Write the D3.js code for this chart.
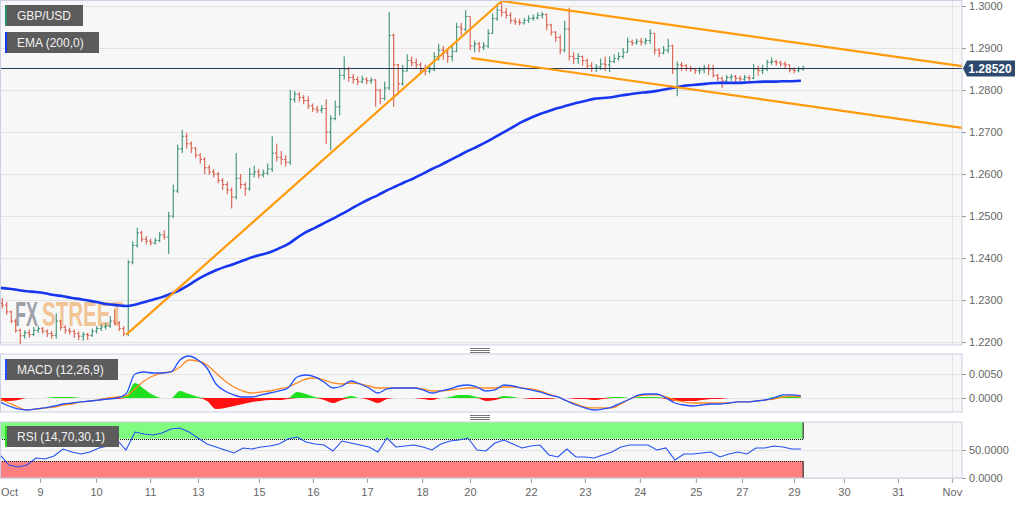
<!DOCTYPE html>
<html><head><meta charset="utf-8">
<script src="https://cdn.jsdelivr.net/npm/d3@7"></script>
<style>
html,body{margin:0;padding:0;background:#fff;}
svg{display:block;font-family:"Liberation Sans",Arial,sans-serif;}
</style></head><body>
<svg id="c" width="1032" height="505"></svg>
<script>
// ---- DATA (2-hour GBP/USD bars) ----
const firstOpen = 1.2292;
const closes = [
1.2288,1.2272,1.2250,1.2228,1.2215,1.2222,1.2218,1.2228,1.2232,1.2226,
1.2220,1.2216,1.2250,1.2235,1.2228,1.2225,1.2220,1.2214,1.2218,1.2216,
1.2226,1.2232,1.2236,1.2238,1.2250,1.2245,1.2232,1.2220,1.2390,1.2430,
1.2460,1.2445,1.2440,1.2436,1.2442,1.2455,1.2450,1.2500,1.2560,1.2660,
1.2690,1.2672,1.2662,1.2645,1.2635,1.2615,1.2605,1.2600,1.2585,1.2575,
1.2562,1.2545,1.2590,1.2575,1.2565,1.2600,1.2605,1.2598,1.2602,1.2612,
1.2650,1.2640,1.2635,1.2628,1.2778,1.2790,1.2782,1.2775,1.2762,1.2755,
1.2752,1.2756,1.2700,1.2732,1.2760,1.2835,1.2850,1.2830,1.2825,1.2820,
1.2826,1.2822,1.2824,1.2800,1.2780,1.2805,1.2930,1.2860,1.2815,1.2845,
1.2870,1.2865,1.2860,1.2850,1.2845,1.2850,1.2880,1.2895,1.2888,1.2880,
1.2892,1.2950,1.2945,1.2975,1.2905,1.2910,1.2902,1.2905,1.2935,1.2970,
1.2990,1.2985,1.2978,1.2965,1.2962,1.2960,1.2966,1.2970,1.2972,1.2978,
1.2980,1.2955,1.2938,1.2925,1.2895,1.2945,1.2880,1.2875,1.2880,1.2870,
1.2858,1.2852,1.2855,1.2862,1.2860,1.2868,1.2875,1.2880,1.2890,1.2915,
1.2912,1.2916,1.2914,1.2918,1.2935,1.2895,1.2888,1.2895,1.2905,1.2850,
1.2860,1.2858,1.2852,1.2850,1.2846,1.2848,1.2852,1.2850,1.2835,1.2828,
1.2822,1.2830,1.2832,1.2828,1.2826,1.2830,1.2828,1.2850,1.2846,1.2850,
1.2866,1.2868,1.2865,1.2862,1.2860,1.2848,1.2846,1.2850,1.2852];
const highs = [
1.2305,1.2295,1.2275,1.2255,1.2232,1.2228,1.2230,1.2236,1.2238,1.2236,
1.2230,1.2226,1.2268,1.2252,1.2240,1.2234,1.2230,1.2225,1.2224,1.2222,
1.2232,1.2238,1.2242,1.2245,1.2262,1.2278,1.2250,1.2238,1.2395,1.2440,
1.2472,1.2465,1.2452,1.2446,1.2448,1.2462,1.2466,1.2510,1.2575,1.2670,
1.2705,1.2698,1.2678,1.2664,1.2650,1.2640,1.2622,1.2612,1.2605,1.2590,
1.2582,1.2568,1.2650,1.2600,1.2580,1.2615,1.2620,1.2612,1.2610,1.2625,
1.2690,1.2672,1.2655,1.2645,1.2800,1.2798,1.2795,1.2788,1.2785,1.2768,
1.2762,1.2764,1.2778,1.2740,1.2775,1.2850,1.2880,1.2855,1.2838,1.2832,
1.2834,1.2830,1.2830,1.2826,1.2802,1.2820,1.2986,1.2935,1.2862,1.2860,
1.2885,1.2880,1.2875,1.2866,1.2860,1.2858,1.2890,1.2910,1.2905,1.2900,
1.2905,1.2960,1.2960,1.2990,1.2975,1.2918,1.2915,1.2914,1.2945,1.2983,
1.3005,1.3012,1.2995,1.2985,1.2972,1.2970,1.2972,1.2978,1.2980,1.2985,
1.2986,1.2982,1.2958,1.2940,1.2932,1.2965,1.2996,1.2890,1.2888,1.2882,
1.2875,1.2866,1.2862,1.2875,1.2880,1.2880,1.2885,1.2890,1.2900,1.2925,
1.2920,1.2922,1.2924,1.2924,1.2945,1.2935,1.2900,1.2905,1.2922,1.2908,
1.2868,1.2867,1.2862,1.2858,1.2853,1.2855,1.2860,1.2862,1.2860,1.2838,
1.2832,1.2836,1.2838,1.2836,1.2834,1.2836,1.2835,1.2862,1.2858,1.2860,
1.2872,1.2878,1.2872,1.2870,1.2868,1.2860,1.2854,1.2856,1.2858];
const lows = [
1.2280,1.2265,1.2245,1.2222,1.2195,1.2208,1.2210,1.2214,1.2222,1.2220,
1.2212,1.2208,1.2208,1.2228,1.2220,1.2218,1.2210,1.2205,1.2203,1.2205,
1.2212,1.2220,1.2226,1.2230,1.2234,1.2240,1.2226,1.2214,1.2214,1.2385,
1.2425,1.2438,1.2432,1.2430,1.2432,1.2438,1.2444,1.2410,1.2495,1.2555,
1.2650,1.2660,1.2650,1.2638,1.2625,1.2600,1.2598,1.2592,1.2578,1.2562,
1.2552,1.2518,1.2540,1.2565,1.2548,1.2560,1.2592,1.2590,1.2592,1.2598,
1.2605,1.2630,1.2622,1.2618,1.2622,1.2770,1.2772,1.2766,1.2755,1.2748,
1.2745,1.2745,1.2672,1.2657,1.2728,1.2740,1.2825,1.2820,1.2815,1.2812,
1.2816,1.2814,1.2815,1.2760,1.2766,1.2775,1.2800,1.2760,1.2790,1.2810,
1.2845,1.2856,1.2852,1.2840,1.2835,1.2840,1.2845,1.2870,1.2872,1.2865,
1.2868,1.2890,1.2930,1.2940,1.2895,1.2890,1.2890,1.2895,1.2900,1.2935,
1.2965,1.2975,1.2970,1.2958,1.2955,1.2954,1.2956,1.2960,1.2965,1.2968,
1.2970,1.2942,1.2930,1.2915,1.2885,1.2890,1.2870,1.2862,1.2862,1.2858,
1.2850,1.2843,1.2843,1.2848,1.2845,1.2843,1.2864,1.2870,1.2875,1.2890,
1.2905,1.2908,1.2906,1.2908,1.2910,1.2885,1.2878,1.2885,1.2888,1.2838,
1.2785,1.2845,1.2845,1.2843,1.2838,1.2838,1.2840,1.2836,1.2830,1.2822,
1.2805,1.2818,1.2822,1.2820,1.2820,1.2822,1.2818,1.2826,1.2834,1.2838,
1.2845,1.2860,1.2858,1.2856,1.2852,1.2842,1.2840,1.2842,1.2846];
const barHours = 2;

// indicators sampled every 4 trading hours
const indicatorStep = 4;
const ema200 = [
1.2329,1.2327,1.2324,1.2321,1.2319,1.2316,1.2312,1.2309,1.2305,1.2302,
1.2298,1.2294,1.2290,1.2288,1.2286,1.2289,1.2295,1.2301,1.2307,1.2315,
1.2324,1.2336,1.2350,1.2361,1.2371,1.2379,1.2386,1.2394,1.2402,1.2408,
1.2414,1.2423,1.2433,1.2448,1.2462,1.2472,1.2483,1.2494,1.2505,1.2517,
1.2529,1.2540,1.2550,1.2561,1.2571,1.2581,1.2590,1.2601,1.2612,1.2622,
1.2633,1.2644,1.2655,1.2665,1.2676,1.2688,1.2700,1.2712,1.2724,1.2734,
1.2743,1.2750,1.2757,1.2763,1.2769,1.2774,1.2779,1.2781,1.2783,1.2787,
1.2790,1.2793,1.2795,1.2798,1.2802,1.2806,1.2810,1.2812,1.2814,1.2816,
1.2817,1.2817,1.2817,1.2818,1.2819,1.2820,1.2820,1.2821,1.2821,1.2822];
const macdLine = [
-0.00083,-0.00167,-0.00229,-0.00250,-0.00229,-0.00208,-0.00167,-0.00125,-0.00104,-0.00083,
-0.00063,-0.00042,-0.00021,0.00000,0.00083,0.00500,0.00542,0.00521,0.00521,0.00542,
0.00792,0.00875,0.00792,0.00625,0.00292,0.00146,0.00063,0.00021,0.00021,0.00063,
0.00104,0.00146,0.00208,0.00438,0.00479,0.00438,0.00333,0.00208,0.00250,0.00354,
0.00292,0.00208,0.00104,0.00188,0.00208,0.00208,0.00208,0.00167,0.00104,0.00146,
0.00188,0.00250,0.00271,0.00229,0.00146,0.00167,0.00271,0.00250,0.00208,0.00167,
0.00125,0.00063,0.00021,-0.00063,-0.00146,-0.00208,-0.00250,-0.00229,-0.00188,-0.00104,
-0.00021,0.00063,0.00083,0.00083,0.00000,-0.00104,-0.00146,-0.00167,-0.00146,-0.00125,
-0.00125,-0.00104,-0.00083,-0.00083,-0.00063,-0.00042,0.00000,0.00063,0.00063,0.00042];
const signalLine = [
-0.00021,-0.00104,-0.00188,-0.00250,-0.00229,-0.00208,-0.00188,-0.00146,-0.00125,-0.00083,
-0.00063,-0.00042,0.00000,0.00021,0.00042,0.00188,0.00354,0.00458,0.00521,0.00542,
0.00646,0.00792,0.00771,0.00688,0.00521,0.00354,0.00229,0.00146,0.00104,0.00125,
0.00146,0.00188,0.00229,0.00313,0.00396,0.00417,0.00375,0.00313,0.00292,0.00313,
0.00292,0.00250,0.00208,0.00208,0.00208,0.00208,0.00208,0.00188,0.00146,0.00146,
0.00167,0.00188,0.00208,0.00208,0.00208,0.00208,0.00229,0.00229,0.00208,0.00188,
0.00146,0.00083,0.00021,-0.00063,-0.00125,-0.00188,-0.00208,-0.00208,-0.00208,-0.00125,
-0.00021,0.00042,0.00063,0.00063,0.00021,-0.00042,-0.00083,-0.00104,-0.00104,-0.00104,
-0.00104,-0.00104,-0.00083,-0.00083,-0.00063,-0.00042,-0.00021,0.00021,0.00042,0.00021];
const rsiValues = [
41.1,23.2,19.6,23.2,35.7,33.9,39.3,51.8,46.4,42.9,
46.4,53.6,57.1,67.9,50.0,82.1,78.6,76.8,80.4,87.5,
89.3,82.1,71.4,60.7,55.4,50.0,44.6,53.6,51.8,55.4,
57.1,60.7,69.6,73.2,64.3,60.7,58.9,48.2,66.1,62.5,
58.9,55.4,46.4,71.4,55.4,57.1,58.9,55.4,50.0,60.7,
66.1,67.9,71.4,50.0,48.2,62.5,67.9,60.7,53.6,57.1,
58.9,41.1,37.5,51.8,37.5,37.5,35.7,41.1,46.4,55.4,
58.9,58.9,58.9,50.0,53.6,32.1,42.9,42.9,44.6,46.4,
37.5,42.9,46.4,42.9,53.6,53.6,57.1,55.4,51.8,51.8];
const rsiUpper = 70, rsiLower = 30;

// trend lines: [hour, price] endpoints
const trendLines = [
  [[56.4, 1.2219], [223.1, 1.3012]],
  [[223.1, 1.3012], [427.6, 1.2857]],
  [[209.8, 1.2876], [427.6, 1.2710]]
];
const lastPrice = 1.2852;

// axes
const totalHours = 427.6;
const priceTicks = [1.22,1.23,1.24,1.25,1.26,1.27,1.28,1.29,1.30];
const macdTicks = [0, 0.005];
const rsiTicks = [0, 50];
const xTickLabels = ["Oct","9","10","11","13","15","16","17","18","20","22","23","24","25","27","29","30","31","Nov"];
const xTickHours = [4,17.8,42.7,66.7,88,115.1,139.1,163.1,187.6,208.9,236,260,284.4,309.3,329.8,352.9,375.1,399.1,423.1];
const monthStartHour = 423.1;

// ---- LAYOUT ----
const svg = d3.select("#c");
const PR = 962;
const mainP = {top:0.5, bottom:345};
const macdP = {top:354, bottom:412};
const rsiP = {top:422, bottom:478};

const x = d3.scaleLinear().domain([0,totalHours]).range([0,PR]);
const yP = d3.scaleLinear().domain([1.2193,1.3012]).range([345,1]);
const yM = d3.scaleLinear().domain([-0.00292,0.00917]).range([412,354]);
const yR = d3.scaleLinear().domain([0,100]).range([478,422]);

const defs = svg.append("defs");
function clip(id,p){
  defs.append("clipPath").attr("id",id).append("rect")
    .attr("x",0).attr("y",p.top).attr("width",PR).attr("height",p.bottom-p.top);
}
clip("cm",mainP); clip("cmacd",macdP); clip("crsi",rsiP);

const borderCol = "#c9d0e2", gridCol = "#e3e3e3";
function panel(p, ticks, ys){
  svg.append("rect").attr("x",0.5).attr("y",p.top).attr("width",PR-0.5).attr("height",p.bottom-p.top)
    .attr("fill","#f7f7f7");
  const g = svg.append("g");
  g.selectAll("line.h").data(ticks).join("line")
    .attr("x1",0).attr("x2",PR).attr("y1",d=>Math.round(ys(d))+0.5).attr("y2",d=>Math.round(ys(d))+0.5)
    .attr("stroke",gridCol);
  g.append("line").attr("x1",Math.round(x(monthStartHour))+0.5).attr("x2",Math.round(x(monthStartHour))+0.5)
    .attr("y1",p.top).attr("y2",p.bottom).attr("stroke",gridCol);
}
function border(p){
  svg.append("rect").attr("x",0.5).attr("y",p.top).attr("width",PR-0.5).attr("height",p.bottom-p.top)
    .attr("fill","none").attr("stroke",borderCol);
}
function yAxis(scale, ticks, fmt){
  const g = svg.append("g").attr("transform",`translate(${PR},0)`)
    .call(d3.axisRight(scale).tickValues(ticks).tickFormat(fmt).tickSize(4).tickPadding(3));
  g.select(".domain").remove();
  g.selectAll(".tick line").attr("stroke","#9a9a9a");
  g.selectAll(".tick text").attr("fill","#666").style("font-size","11px").style("font-family","'Liberation Sans',Arial,sans-serif");
}

// ---- MAIN PANEL ----
panel(mainP, priceTicks, yP);
const gm = svg.append("g").attr("clip-path","url(#cm)");

// watermark: two condensed words, scaled horizontally to fit their boxes
function wmWord(txt, x0, w, col){
  const g = gm.append("g");
  const t = g.append("text").attr("x",0).attr("y",0).attr("font-weight","bold").attr("font-size",35)
    .attr("fill",col).attr("fill-opacity",0.85).text(txt);
  const natural = t.node().getComputedTextLength();
  g.attr("transform",`translate(${x0},326) scale(${w/natural},1)`);
}
wmWord("FX", 15, 23, "#8d9199");
wmWord("STREET", 42, 81, "#efbb84");

// OHLC bars
const bars = closes.map((c,i)=>({
  t: i*barHours + barHours/2,
  o: i===0 ? firstOpen : closes[i-1],
  h: highs[i], l: lows[i], c: c
}));
const upCol="#2b8a6b", dnCol="#d6503d", flatCol="#111";
const bg = gm.append("g").attr("stroke-width",1);
bars.forEach(b=>{
  const col = b.c>b.o ? upCol : (b.c<b.o ? dnCol : flatCol);
  const xc = x(b.t);
  const hi = Math.max(b.h,b.o,b.c), lo = Math.min(b.l,b.o,b.c);
  bg.append("line").attr("x1",xc).attr("x2",xc).attr("y1",yP(hi)).attr("y2",yP(lo)).attr("stroke",col);
  bg.append("line").attr("x1",xc-1.7).attr("x2",xc).attr("y1",yP(b.o)).attr("y2",yP(b.o)).attr("stroke",col);
  bg.append("line").attr("x1",xc).attr("x2",xc+1.7).attr("y1",yP(b.c)).attr("y2",yP(b.c)).attr("stroke",col);
});

// last price line
gm.append("line").attr("x1",0).attr("x2",PR)
  .attr("y1",Math.round(yP(lastPrice))+0.5).attr("y2",Math.round(yP(lastPrice))+0.5)
  .attr("stroke","#263a57").attr("stroke-width",1);

// EMA
gm.append("path").datum(ema200)
  .attr("d", d3.line().x((d,i)=>x(i*indicatorStep)).y(d=>yP(d)).curve(d3.curveMonotoneX))
  .attr("fill","none").attr("stroke","#1636f0").attr("stroke-width",2.6);

// trend lines
gm.selectAll("line.tr").data(trendLines).join("line")
  .attr("x1",d=>x(d[0][0])).attr("y1",d=>yP(d[0][1]))
  .attr("x2",d=>x(d[1][0])).attr("y2",d=>yP(d[1][1]))
  .attr("stroke","#ff9a0a").attr("stroke-width",2.2).attr("stroke-linecap","round");

border(mainP);
yAxis(yP, priceTicks, d=>d3.format(".4f")(d));

// last price tag
{
  const yy = Math.round(yP(lastPrice))+0.5;
  svg.append("path").attr("d",`M${PR+1},${yy} L${PR+5},${yy-8} L1015,${yy-8} L1015,${yy+8} L${PR+5},${yy+8} Z`)
    .attr("fill","#2d4a6e");
  svg.append("text").attr("x",990).attr("y",yy+4.3).attr("text-anchor","middle")
    .attr("fill","#fff").attr("font-weight","bold").style("font-size","12px").text(d3.format(".5f")(lastPrice));
}

// ---- MACD PANEL ----
panel(macdP, macdTicks, yM);
const gmac = svg.append("g").attr("clip-path","url(#cmacd)");
const hist = macdLine.map((m,i)=>m-signalLine[i]);
const hx = (d,i)=>x(i*indicatorStep);
gmac.append("path").datum(hist)
  .attr("d", d3.area().x(hx).y0(yM(0)).y1(d=>yM(Math.max(0,d))).curve(d3.curveMonotoneX))
  .attr("fill","#1fe01f");
gmac.append("path").datum(hist)
  .attr("d", d3.area().x(hx).y0(yM(0)).y1(d=>yM(Math.min(0,d))).curve(d3.curveMonotoneX))
  .attr("fill","#ff1111");
gmac.append("path").datum(signalLine)
  .attr("d", d3.line().x(hx).y(d=>yM(d)).curve(d3.curveMonotoneX))
  .attr("fill","none").attr("stroke","#ff8a1f").attr("stroke-width",1.3);
gmac.append("path").datum(macdLine)
  .attr("d", d3.line().x(hx).y(d=>yM(d)).curve(d3.curveMonotoneX))
  .attr("fill","none").attr("stroke","#2450ff").attr("stroke-width",1.3);
border(macdP);
yAxis(yM, macdTicks, d=>d3.format(".4f")(d));

// ---- RSI PANEL ----
panel(rsiP, rsiTicks, yR);
const grsi = svg.append("g").attr("clip-path","url(#crsi)");
const lastHour = bars[bars.length-1].t;
const bandX1 = x(lastHour);
grsi.append("rect").attr("x",0).attr("width",bandX1).attr("y",yR(100)).attr("height",yR(rsiUpper)-yR(100)).attr("fill","#80fd80");
grsi.append("rect").attr("x",0).attr("width",bandX1).attr("y",yR(rsiLower)).attr("height",yR(0)-yR(rsiLower)).attr("fill","#fe8080");
[rsiUpper, rsiLower].forEach(v=>{
  grsi.append("line").attr("x1",0).attr("x2",bandX1).attr("y1",Math.round(yR(v))+0.5).attr("y2",Math.round(yR(v))+0.5)
    .attr("stroke","#111").attr("stroke-dasharray","1,1");
});
[[100,rsiUpper],[rsiLower,0]].forEach(r=>{
  [0.5, bandX1].forEach(xx=>{
    grsi.append("line").attr("x1",xx).attr("x2",xx).attr("y1",yR(r[0])).attr("y2",yR(r[1])).attr("stroke","#111");
  });
});
grsi.append("path").datum(rsiValues)
  .attr("d", d3.line().x(hx).y(d=>yR(d)))
  .attr("fill","none").attr("stroke","#2450f0").attr("stroke-width",1.1);
border(rsiP);
yAxis(yR, rsiTicks, d=>d3.format(".4f")(d));

// ---- X AXIS ----
{
  const g = svg.append("g").attr("transform",`translate(0,${rsiP.bottom+1})`)
    .call(d3.axisBottom(x).tickValues(xTickHours).tickFormat((d,i)=>xTickLabels[i]).tickSize(4).tickPadding(5));
  g.select(".domain").remove();
  g.selectAll(".tick line").attr("stroke","#9a9a9a").filter((d,i)=>i===0).remove();
  g.selectAll(".tick text").attr("fill","#666").style("font-size","11px").style("font-family","'Liberation Sans',Arial,sans-serif");
}

// ---- panel resize handles ----
[348, 415].forEach(y0=>{
  [0,2,4].forEach(dy=>{
    svg.append("line").attr("x1",470).attr("x2",490).attr("y1",y0+dy+0.5).attr("y2",y0+dy+0.5)
      .attr("stroke","#777");
  });
});

// ---- legend labels ----
function legend(x0,y0,w,h,txt,stripe){
  svg.append("rect").attr("x",x0).attr("y",y0).attr("width",w).attr("height",h).attr("fill","#5c5c5c");
  svg.append("rect").attr("x",x0).attr("y",y0).attr("width",2).attr("height",h).attr("fill",stripe);
  svg.append("text").attr("x",x0+12).attr("y",y0+h/2+4.3).attr("fill","#f2f2f2")
    .style("font-size","12px").text(txt);
}
legend(5,5,78,21,"GBP/USD","#2b8a6b");
legend(5,32,94,21,"EMA (200,0)","#1636f0");
legend(5,359,113,21,"MACD (12,26,9)","#2450ff");
legend(5,426,114,21,"RSI (14,70,30,1)","#22dd22");
</script>
</body></html>
